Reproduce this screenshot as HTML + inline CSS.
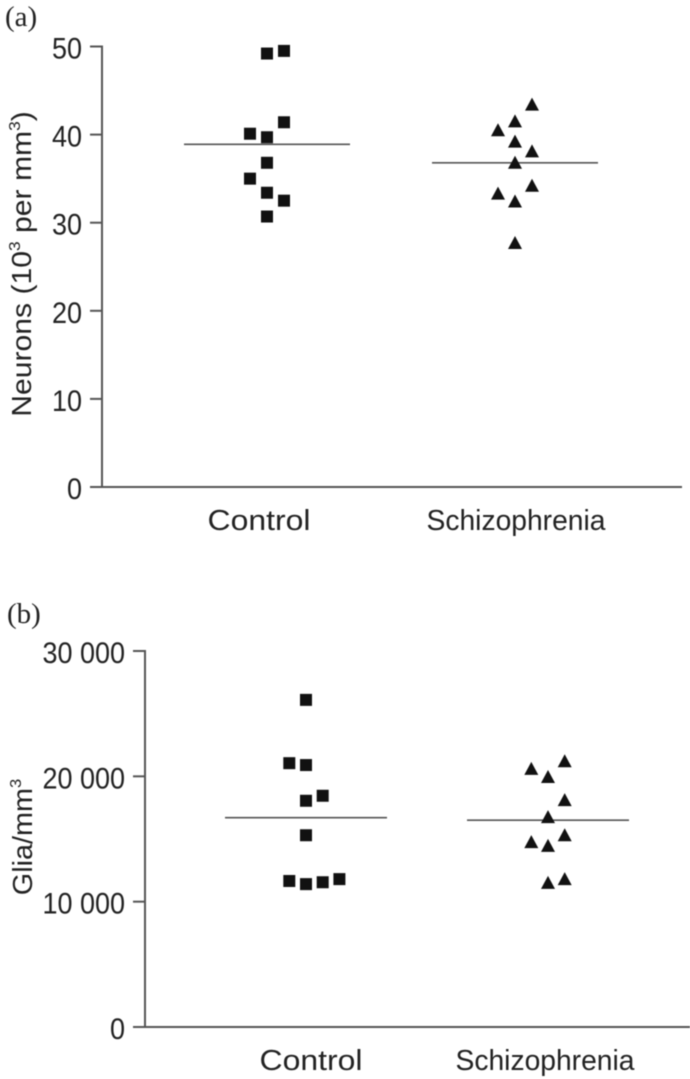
<!DOCTYPE html>
<html lang="en">
<head>
<meta charset="utf-8">
<title>Neurons and glia density</title>
<style>
html,body{margin:0;padding:0;background:#fff;}
svg{display:block;filter:blur(0.4px);}
text{font-family:"Liberation Sans",sans-serif;fill:#222;}
</style>
</head>
<body>
<svg id="chart" xmlns="http://www.w3.org/2000/svg" width="690" height="1079" viewBox="0 0 690 1079">
  <text x="5" y="26" font-size="29" style="font-family:'Liberation Serif',serif">(a)</text>
  <text x="7" y="623" font-size="29" style="font-family:'Liberation Serif',serif">(b)</text>
  <text transform="translate(31,264) rotate(-90) scale(1.077,1)" text-anchor="middle" font-size="28">Neurons (10<tspan font-size="16" dy="-11">3</tspan><tspan dy="11"> per mm</tspan><tspan font-size="16" dy="-11">3</tspan><tspan dy="11">)</tspan></text>
  <text transform="translate(32,837) rotate(-90) scale(1.03,1)" text-anchor="middle" font-size="28">Glia/mm<tspan font-size="16" dy="-11">3</tspan></text>
  <g id="panel-a"></g>
  <g id="panel-b"></g>
</svg>
<script>
var categories = ["Control", "Schizophrenia"];

var neuronTicks = [0, 10, 20, 30, 40, 50];
var neuronControl = [49.2, 49.5, 41.4, 40.1, 39.7, 36.8, 35.0, 33.4, 32.5, 30.7];
var neuronControlLane = [0, 1, 1, -1, 0, 0, -1, 0, 1, 0];
var neuronSchizophrenia = [43.4, 41.5, 40.5, 39.2, 38.1, 36.8, 34.2, 33.3, 32.4, 27.7];
var neuronSchizophreniaLane = [1, 0, -1, 0, 1, 0, 1, -1, 0, 0];
var neuronMeans = [38.9, 36.8];

var gliaTicks = [0, 10000, 20000, 30000];
var gliaControl = [26100, 21050, 20900, 18450, 18050, 15300, 11650, 11400, 11550, 11800];
var gliaControlLane = [0, -1, 0, 1, 0, 0, -1, 0, 1, 2];
var gliaSchizophrenia = [21200, 20600, 19950, 18100, 16750, 15300, 14750, 14450, 11800, 11500];
var gliaSchizophreniaLane = [1, -1, 0, 1, 0, 1, -1, 0, 1, 0];
var gliaMeans = [16700, 16500];

var NS = "http://www.w3.org/2000/svg";

function make(parent, tag, attrs) {
  var el = document.createElementNS(NS, tag);
  for (var k in attrs) { el.setAttribute(k, attrs[k]); }
  parent.appendChild(el);
  return el;
}

function formatTick(v) {
  if (v < 10000) { return String(v); }
  var s = String(v);
  return s.slice(0, s.length - 3) + " " + s.slice(s.length - 3);
}

function drawPanel(cfg) {
  var g = document.getElementById(cfg.id);
  var maxTick = cfg.ticks[cfg.ticks.length - 1];
  function yScale(v) { return cfg.y0 + (cfg.yTop - cfg.y0) * v / maxTick; }
  function xScale(cat, lane) { return cfg.centers[cat] + lane * cfg.laneWidth; }

  var yAxis = make(g, "line", {x1: cfg.x0, x2: cfg.x0, y1: yScale(0) + 1, y2: yScale(maxTick) - 1, stroke: "#555", "stroke-width": 2});
  
  
  var xAxis = make(g, "line", {x1: cfg.x0 - 12, x2: cfg.xEnd, y1: yScale(0), y2: yScale(0), stroke: "#555", "stroke-width": 2});
  
  

  cfg.ticks.forEach(function (t) {
    var y = yScale(t);
    var mark = make(g, "line", {x1: cfg.x0 - 12, x2: cfg.x0, y1: y, y2: y, stroke: "#555", "stroke-width": 2});
    
    
    var label = make(g, "text", {transform: "translate(" + (cfg.x0 - 20) + "," + (y + cfg.tickBaseline) + ") scale(.9,1)", "text-anchor": "end", "font-size": 30});
    
    
    label.textContent = formatTick(t);
  });

  categories.forEach(function (c, i) {
    var label = make(g, "text", {x: cfg.labelX[i], y: cfg.labelY, "text-anchor": "middle", "font-size": 29, textLength: cfg.labelW[i], lengthAdjust: "spacingAndGlyphs"});
    
    
    label.textContent = c;
    var m = make(g, "line", {x1: cfg.centers[i] - cfg.meanHalf, x2: cfg.centers[i] + cfg.meanHalf, y1: yScale(cfg.means[i]), y2: yScale(cfg.means[i]), stroke: "#555", "stroke-width": 1.6});
    
    
  });

  cfg.control.forEach(function (v, i) {
    var cx = xScale(0, cfg.controlLane[i]), cy = yScale(v);
    var sq = make(g, "rect", {x: cx - 6, y: cy - 6, width: 12, height: 12, fill: "#111"});
    
    
  });

  cfg.schizophrenia.forEach(function (v, i) {
    var cx = xScale(1, cfg.schizophreniaLane[i]), cy = yScale(v);
    var tri = make(g, "polygon", {points: (cx - 7) + "," + (cy + 6) + " " + (cx + 7) + "," + (cy + 6) + " " + cx + "," + (cy - 7), fill: "#111"});
    
    
  });
}

drawPanel({
  id: "panel-a", x0: 102, xEnd: 682, y0: 487, yTop: 46.5, tickBaseline: 12,
  ticks: neuronTicks, centers: [267, 515], laneWidth: 17, meanHalf: 83,
  means: neuronMeans, control: neuronControl, controlLane: neuronControlLane,
  schizophrenia: neuronSchizophrenia, schizophreniaLane: neuronSchizophreniaLane,
  labelX: [259, 516], labelW: [103, 179], labelY: 530
});

drawPanel({
  id: "panel-b", x0: 145, xEnd: 690, y0: 1027, yTop: 651, tickBaseline: 12,
  ticks: gliaTicks, centers: [306, 548], laneWidth: 16.7, meanHalf: 81,
  means: gliaMeans, control: gliaControl, controlLane: gliaControlLane,
  schizophrenia: gliaSchizophrenia, schizophreniaLane: gliaSchizophreniaLane,
  labelX: [311, 545], labelW: [103, 179], labelY: 1070
});
</script>
</body>
</html>
